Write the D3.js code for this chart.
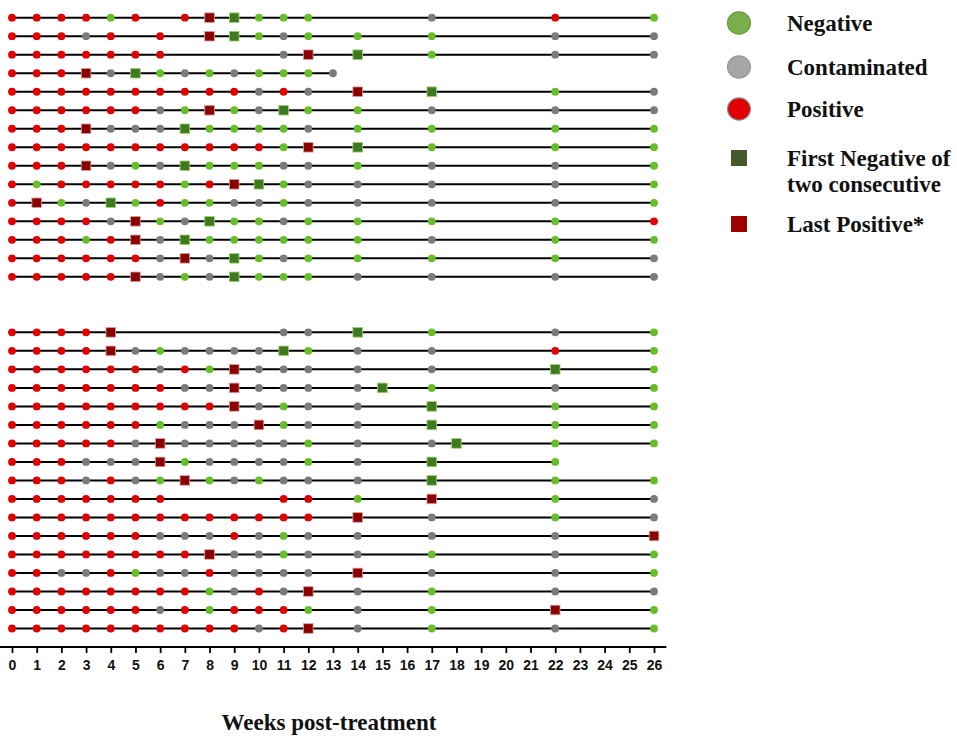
<!DOCTYPE html>
<html>
<head>
<meta charset="utf-8">
<script src="https://cdn.jsdelivr.net/npm/d3@7"></script>
<style>
  body { margin: 0; background: #fff; }
  .tick text { font-family: "Liberation Sans", Arial, sans-serif; font-weight: bold; font-size: 14px; fill: #111; }
  .legend text, .title { font-family: "Liberation Serif", "Times New Roman", serif; font-weight: bold; fill: #111; }
</style>
</head>
<body>
<div id="chart"></div>
<script>
// sampling weeks, one column per week that has a result in any row
const weeks = [0, 1, 2, 3, 4, 5, 6, 7, 8, 9, 10, 11, 12, 13, 14, 15, 17, 18, 22, 26];

// R = positive, N = negative, C = contaminated,
// L = last positive, F = first negative of two consecutive, . = no sample
const topRows = [
  "RRRRNR.RLFNNN...C.RN",
  "RRRCR.R.LFNCN.N.N.CC",
  "RRRRRRR....CL.F.N.CC",
  "RRRLCFNCNCNNNC......",
  "RRRRRRRRRRCRC.L.F.NC",
  "RRRRRRCNLNCFN.N.C.CC",
  "RRRLCCCFNNNNC.N.N.NN",
  "RRRRRRRRRRRNL.F.N.NN",
  "RRRLCNCFNNNCC.N.C.CN",
  "RNRRRRRNRLFNC.C.C.CN",
  "RLNCFNRNNCCNC.C.C.CN",
  "RRRRCLNCFNNCN.N.N.NR",
  "RRRNRLCFNNNNN.N.C.NN",
  "RRRRRRCLCFNCN.N.N.NC",
  "RRRRRLCNCFNNN.C.C.CC"
];

const bottomRows = [
  "RRRRL......CC.F.N.CN",
  "RRRRLCNCCCCFN.C.C.RN",
  "RRRRRRCRNLCCC.C.C.FN",
  "RRRRRRRCCLCCC.CFN.CN",
  "RRRRRRRRRLCNC.C.F.NN",
  "RRRRRRNCCCLNC.C.F.NN",
  "RRRRRCLCCCCCN.C.CFNN",
  "RRRCCCLNCCCCN.C.F.N.",
  "RRRCRCNLNCNCC.C.F.NN",
  "RRRRRRR....RR.N.L.NC",
  "RRRRRRRRRRRRR.L.C.NC",
  "RRRRRRCCCRCNC.C.C.CL",
  "RRRRRRRRLCCNC.C.N.CN",
  "RRCCRNCCRCCCC.L.C.CN",
  "RRRRRRRRNCRCL.C.N.CC",
  "RRRRRRCRNRRRN.C.N.LN",
  "RRRRRRRRRRCRL.C.N.CN"
];

const tickWeeks = d3.range(0, 27);
const gapRows = 2;

const legendLabels = [
  ["Negative"],
  ["Contaminated"],
  ["Positive"],
  ["First Negative of", "two consecutive"],
  ["Last Positive*"]
];
const legendCodes = ["N", "C", "R", "F", "L"];

const xTitle = "Weeks post-treatment";

// styling
const dotFill = { R: "#e10000", N: "#66bf28", C: "#7b7b7b" };
const squareFill = { L: "#8b0000", F: "#3f7b1d" };
const squareStroke = { L: "#d9a0a0", F: "#9fd07a" };
const legendFill = { N: "#7aae4a", C: "#a6a6a6", R: "#e00000", F: "#45592a", L: "#9e0000" };
const legendStroke = { N: "#6b9a40", C: "#9a9a9a", R: "#7e9c9c", F: "#45592a", L: "#9e0000" };

const width = 957;
const height = 740;

const svg = d3.select("#chart")
  .append("svg")
  .attr("width", width)
  .attr("height", height);

const x = d3.scaleLinear()
  .domain([0, 26])
  .range([12, 654]);

const nSlots = topRows.length + gapRows + bottomRows.length;
const y = d3.scaleLinear()
  .domain([0, nSlots - 1])
  .range([17.7, 628.5]);

const rows = topRows.map((codes, i) => ({ codes, slot: i }))
  .concat(bottomRows.map((codes, i) => ({ codes, slot: topRows.length + gapRows + i })));

rows.forEach(r => {
  r.points = [];
  r.codes.split("").forEach((c, j) => {
    if (c !== ".") r.points.push({ week: weeks[j], code: c });
  });
});

// row lines from week 0 to the last sample
svg.append("g")
  .selectAll("line")
  .data(rows)
  .enter().append("line")
  .attr("x1", d => x(d.points[0].week))
  .attr("x2", d => x(d.points[d.points.length - 1].week))
  .attr("y1", d => y(d.slot))
  .attr("y2", d => y(d.slot))
  .attr("stroke", "#000")
  .attr("stroke-width", 2);

const marks = svg.append("g")
  .selectAll("g")
  .data(rows)
  .enter().append("g")
  .attr("transform", d => `translate(0,${y(d.slot)})`);

marks.selectAll("circle")
  .data(d => d.points.filter(p => dotFill[p.code]))
  .enter().append("circle")
  .attr("cx", p => x(p.week))
  .attr("cy", 0)
  .attr("r", 3.9)
  .attr("fill", p => dotFill[p.code]);

const sq = 9.6;
marks.selectAll("rect")
  .data(d => d.points.filter(p => squareFill[p.code]))
  .enter().append("rect")
  .attr("x", p => x(p.week) - sq / 2)
  .attr("y", -sq / 2)
  .attr("width", sq)
  .attr("height", sq)
  .attr("fill", p => squareFill[p.code])
  .attr("stroke", p => squareStroke[p.code])
  .attr("stroke-width", 0.8);

// x axis
const axisY = 647;
const axis = svg.append("g")
  .attr("transform", `translate(0,${axisY})`)
  .call(d3.axisBottom(x)
    .tickValues(tickWeeks)
    .tickFormat(d3.format("d"))
    .tickSize(6)
    .tickSizeOuter(0)
    .tickPadding(7));

axis.select(".domain").remove();
axis.selectAll(".tick line").attr("stroke", "#000").attr("stroke-width", 1.8);
axis.append("line")
  .attr("x1", x(-0.5))
  .attr("x2", x(26.5))
  .attr("stroke", "#000")
  .attr("stroke-width", 2);

svg.append("text")
  .attr("class", "title")
  .attr("x", 329)
  .attr("y", 730)
  .attr("text-anchor", "middle")
  .style("font-size", "23px")
  .text(xTitle);

// legend
const legendY = [23, 67, 109, 158, 224];
const legend = svg.append("g")
  .attr("class", "legend")
  .selectAll("g")
  .data(legendLabels)
  .enter().append("g")
  .attr("transform", (d, i) => `translate(739,${legendY[i]})`);

legend.each(function (d, i) {
  const g = d3.select(this);
  const code = legendCodes[i];
  if (code === "F" || code === "L") {
    g.append("rect")
      .attr("x", -8).attr("y", -8)
      .attr("width", 16).attr("height", 16)
      .attr("fill", legendFill[code]);
  } else {
    g.append("ellipse")
      .attr("rx", 11.5).attr("ry", 11.2)
      .attr("fill", legendFill[code])
      .attr("stroke", legendStroke[code])
      .attr("stroke-width", 1.2);
  }
  g.selectAll("text")
    .data(d)
    .enter().append("text")
    .attr("x", 48)
    .attr("y", (t, k) => 8 + k * 26)
    .style("font-size", "23px")
    .text(t => t);
});
</script>
</body>
</html>
